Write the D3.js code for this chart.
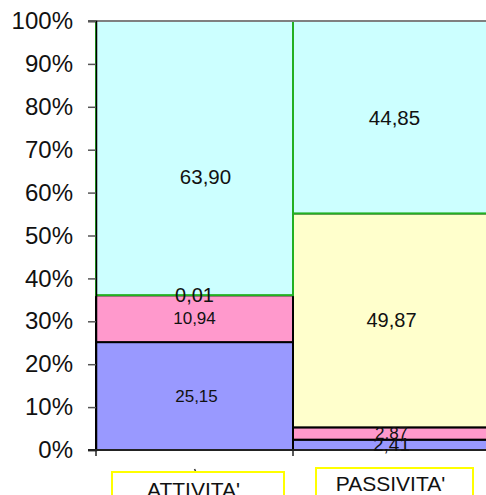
<!DOCTYPE html>
<html><head><meta charset="utf-8">
<script src="https://cdn.jsdelivr.net/npm/d3@7"></script>
<style>html,body{margin:0;padding:0;background:#fff;}svg{display:block;font-family:"Liberation Sans",Arial,sans-serif;}</style>
</head><body>
<script>
const categories = ["ATTIVITA'", "PASSIVITA'"];
const seriesNames = ["s1", "s2", "s3", "s4"];
const s1 = [25.15, 2.41];
const s2 = [10.94, 2.87];
const s3 = [0.01, 49.87];
const s4 = [63.90, 44.85];
const yTicks = [0, 10, 20, 30, 40, 50, 60, 70, 80, 90, 100];

const colors = ["#9999FF", "#FF99CC", "#FFFFCC", "#CCFFFF"];
const strokes = ["#000", "#000", "#000", "#22B022"];
const labelSize = [[17, 19], [17, 17], [20, 20], [20.5, 20.5]];
const labelDy = [[0, 0], [0, 0], [0, 0], [18, 0]];
const labelDx = [[2, 0], [0, 0], [0, 0], [11, 3]];

const W = 486, H = 495;
const svg = d3.select("body").append("svg").attr("width", W).attr("height", H);

const x = d3.scaleBand().domain(categories).range([96, 490]).padding(0);
const y = d3.scaleLinear().domain([0, 100]).range([450, 21]);

const table = categories.map((c, i) => ({cat: c, s1: s1[i], s2: s2[i], s3: s3[i], s4: s4[i]}));
const stack = d3.stack().keys(seriesNames)(table);

const fmt = v => v.toFixed(2).replace(".", ",");

stack.forEach((layer, li) => {
  svg.append("g").selectAll("rect").data(layer).join("rect")
    .attr("x", d => x(d.data.cat))
    .attr("y", d => y(d[1]))
    .attr("width", x.bandwidth())
    .attr("height", d => y(d[0]) - y(d[1]))
    .attr("fill", colors[li])
    .attr("stroke", strokes[li])
    .attr("stroke-width", 2);
});

// top border
svg.append("line").attr("x1", 88).attr("x2", W).attr("y1", y(100)).attr("y2", y(100))
  .attr("stroke", "#808080").attr("stroke-width", 2);

// y axis
const yAxis = svg.append("g").attr("transform", "translate(96,0)")
  .call(d3.axisLeft(y).tickValues(yTicks).tickSize(8).tickPadding(15).tickFormat(d => d + "%"));
yAxis.select(".domain").attr("stroke", "#000").attr("stroke-width", 1.5);
yAxis.selectAll(".tick line").attr("stroke", "#555").attr("stroke-width", 1.5);
yAxis.selectAll(".tick text").attr("font-size", 24).attr("fill", "#111")
  .attr("font-family", "'Liberation Sans',Arial,sans-serif");

// x axis
const xAxis = svg.append("g").attr("transform", "translate(0,450)");
xAxis.append("line").attr("x1", 88).attr("x2", W).attr("y1", 0).attr("y2", 0)
  .attr("stroke", "#222").attr("stroke-width", 2);
xAxis.selectAll(".xt").data(categories).join("line")
  .attr("x1", d => x(d)).attr("x2", d => x(d)).attr("y1", 0).attr("y2", 6)
  .attr("stroke", "#222").attr("stroke-width", 1.5);
// small mark under first category
svg.append("line").attr("x1", x(categories[0]) + x.bandwidth() / 2).attr("x2", x(categories[0]) + x.bandwidth() / 2 + 1)
  .attr("y1", 469).attr("y2", 471).attr("stroke", "#333").attr("stroke-width", 1.5);

// value labels
stack.forEach((layer, li) => {
  svg.append("g").selectAll("text").data(layer).join("text")
    .attr("x", (d, i) => x(d.data.cat) + x.bandwidth() / 2 + labelDx[li][i])
    .attr("y", (d, i) => (y(d[0]) + y(d[1])) / 2 + labelDy[li][i])
    .attr("text-anchor", "middle").attr("dominant-baseline", "central")
    .attr("font-size", (d, i) => labelSize[li][i]).attr("fill", "#111")
    .text((d, i) => fmt(d.data[seriesNames[li]]));
});

// category label boxes
const boxes = [{x: 112, y: 472, w: 172, h: 30, ty: 497}, {x: 316, y: 468, w: 157, h: 30, ty: 491}];
categories.forEach((c, i) => {
  const b = boxes[i];
  svg.append("rect").attr("x", b.x).attr("y", b.y).attr("width", b.w).attr("height", b.h)
    .attr("fill", "#fff").attr("stroke", "#FFFF00").attr("stroke-width", 2);
  svg.append("text").attr("x", x(c) + x.bandwidth() / 2 - 1).attr("y", b.ty)
    .attr("text-anchor", "middle").attr("font-size", 21).attr("fill", "#111").text(c);
});
</script>
</body></html>
